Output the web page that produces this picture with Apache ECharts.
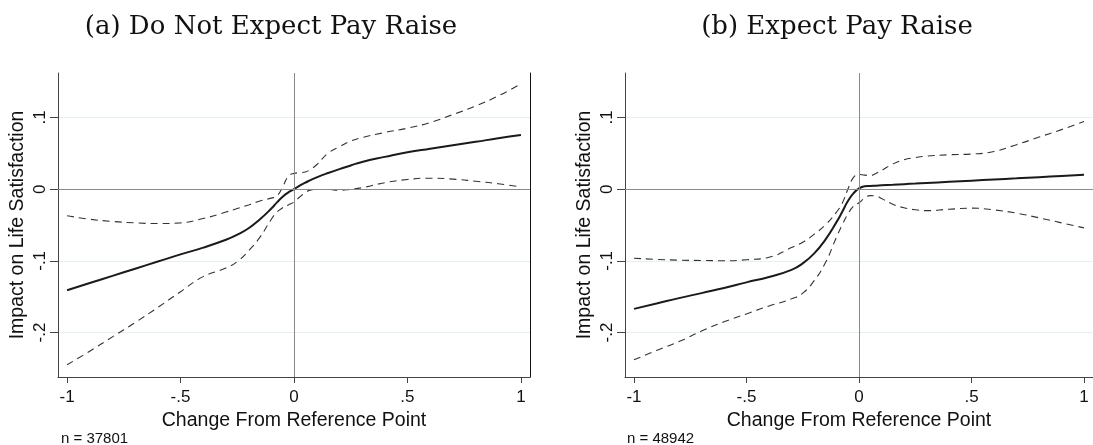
<!DOCTYPE html>
<html>
<head>
<meta charset="utf-8">
<script src="https://cdn.jsdelivr.net/npm/echarts@6/dist/echarts.min.js"></script>
<style>
  html, body { margin: 0; padding: 0; background: #fff; }
  #chart { width: 1093px; height: 445px; }
</style>
</head>
<body>
<div id="chart"></div>
<script>
// Shared grid of reference-point changes
const xs = [-1, -0.9, -0.8, -0.7, -0.6, -0.5, -0.4, -0.3, -0.25, -0.2, -0.15, -0.1, -0.075, -0.05, -0.025,
            0, 0.025, 0.05, 0.075, 0.1, 0.15, 0.2, 0.25, 0.3, 0.4, 0.5, 0.6, 0.7, 0.8, 0.9, 1];

// (a) Do not expect pay raise: estimate and confidence band
const aEstimate = [-0.141, -0.131, -0.121, -0.111, -0.101, -0.091, -0.0815, -0.0705, -0.0635, -0.0545, -0.042, -0.027, -0.0185, -0.0105, -0.0045,
                   0.0, 0.005, 0.009, 0.013, 0.0165, 0.0225, 0.028, 0.033, 0.038, 0.045, 0.0515, 0.0565, 0.0613, 0.066, 0.071, 0.0755];
const aUpper = [-0.037, -0.042, -0.045, -0.047, -0.048, -0.047, -0.041, -0.032, -0.027, -0.022, -0.0165, -0.0125, -0.0095, 0.003, 0.018,
                0.022, 0.023, 0.024, 0.028, 0.034, 0.050, 0.059, 0.067, 0.072, 0.079, 0.085, 0.093, 0.104, 0.116, 0.130, 0.147];
const aLower = [-0.245, -0.226, -0.206, -0.186, -0.165, -0.143, -0.122, -0.110, -0.101, -0.086, -0.067, -0.042, -0.032, -0.026, -0.022,
                -0.018, -0.011, -0.005, -0.001, -0.0005, -0.0005, -0.0014, 0.0, 0.002, 0.009, 0.0135, 0.0153, 0.014, 0.011, 0.0075, 0.003];

// (b) Expect pay raise: estimate and confidence band
const bEstimate = [-0.167, -0.1596, -0.152, -0.145, -0.138, -0.130, -0.1225, -0.1125, -0.1035, -0.090, -0.0707, -0.046, -0.032, -0.017, -0.006,
                   0.001, 0.004, 0.0045, 0.0049, 0.0053, 0.0061, 0.007, 0.0078, 0.0086, 0.0102, 0.0118, 0.0135, 0.0151, 0.0167, 0.0183, 0.020];
const bUpper = [-0.0963, -0.098, -0.099, -0.0995, -0.0998, -0.0985, -0.095, -0.0815, -0.074, -0.063, -0.050, -0.032, -0.020, -0.0005, 0.016,
                0.0205, 0.0195, 0.019, 0.022, 0.026, 0.035, 0.041, 0.044, 0.046, 0.048, 0.049, 0.0526, 0.062, 0.0726, 0.083, 0.0944];
const bLower = [-0.238, -0.225, -0.2125, -0.198, -0.185, -0.174, -0.163, -0.153, -0.145, -0.128, -0.103, -0.067, -0.050, -0.035, -0.024,
                -0.019, -0.0125, -0.009, -0.0095, -0.013, -0.021, -0.026, -0.0288, -0.030, -0.028, -0.0265, -0.029, -0.0335, -0.040, -0.047, -0.054];

// Tick positions and their labels
const xTickValues = [-1, -0.5, 0, 0.5, 1];
const xTickLabels = ['-1', '-.5', '0', '.5', '1'];
const yTickValues = [-0.2, -0.1, 0, 0.1];
const yTickLabels = ['-.2', '-.1', '0', '.1'];

const panelTitles = ['(a) Do Not Expect Pay Raise', '(b) Expect Pay Raise'];
const sampleNotes = ['n = 37801', 'n = 48942'];

const SANS = 'Liberation Sans, Arial, sans-serif';
const SERIF = 'DejaVu Serif, serif';
const AXIS_COLOR = '#444';

function pairs(ys) { return xs.map((x, i) => [x, ys[i]]); }
function labelFor(values, labels) {
  return v => {
    const i = values.findIndex(t => Math.abs(t - v) < 1e-9);
    return i >= 0 ? labels[i] : '';
  };
}

function xAxisFor(g) {
  return {
    gridIndex: g, type: 'value', min: -1.04, max: 1.04,
    name: 'Change From Reference Point', nameLocation: 'middle', nameGap: 27,
    nameTextStyle: { fontFamily: SANS, fontSize: 19.5, color: '#111' },
    axisLine: { show: true, onZero: false, lineStyle: { color: AXIS_COLOR, width: 1 } },
    axisTick: { show: true, length: 6, customValues: xTickValues, lineStyle: { color: AXIS_COLOR } },
    axisLabel: { customValues: xTickValues, formatter: labelFor(xTickValues, xTickLabels),
                 fontFamily: SANS, fontSize: 17, color: '#111', margin: 12 },
    splitLine: { show: false }
  };
}
function yAxisFor(g) {
  return {
    gridIndex: g, type: 'value', min: -0.262, max: 0.162,
    name: 'Impact on Life Satisfaction', nameLocation: 'middle', nameGap: 30,
    nameTextStyle: { fontFamily: SANS, fontSize: 19.5, color: '#111' },
    axisLine: { show: true, onZero: false, lineStyle: { color: AXIS_COLOR, width: 1 } },
    axisTick: { show: true, length: 8, customValues: yTickValues, lineStyle: { color: AXIS_COLOR } },
    axisLabel: { customValues: yTickValues, formatter: labelFor(yTickValues, yTickLabels), rotate: 90,
                 fontFamily: SANS, fontSize: 17, color: '#111', margin: 9 },
    splitLine: { show: true, lineStyle: { color: '#e7eff0', width: 1 } }
  };
}

function bandSeries(g, ys) {
  return { type: 'line', xAxisIndex: g, yAxisIndex: g, data: pairs(ys), smooth: 0.5,
           showSymbol: false, lineStyle: { color: '#333', width: 1.1, type: [7, 5] }, z: 3 };
}
function estimateSeries(g, ys) {
  return { type: 'line', xAxisIndex: g, yAxisIndex: g, data: pairs(ys), smooth: 0.5,
           showSymbol: false, lineStyle: { color: '#1a1a1a', width: 2 }, z: 4 };
}
function zeroLines(g) {
  return { type: 'line', xAxisIndex: g, yAxisIndex: g, data: [], z: 2,
           markLine: { silent: true, symbol: 'none', label: { show: false },
                       lineStyle: { color: '#8a8a8a', width: 1, type: 'solid' },
                       data: [{ xAxis: 0 }, { yAxis: 0 }] } };
}

function textBlock(text, left, top, family, size, align) {
  return { text: text, left: left, top: top, padding: 0,
           textAlign: align, textVerticalAlign: align === 'center' ? 'middle' : 'top',
           textStyle: { fontFamily: family, fontSize: size, fontWeight: 'normal', color: '#111' } };
}

const chart = echarts.init(document.getElementById('chart'), null, { renderer: 'canvas' });
chart.setOption({
  animation: false,
  backgroundColor: '#fff',
  title: [
    textBlock(panelTitles[0], 271, 27, SERIF, 26, 'center'),
    textBlock(panelTitles[1], 837, 27, SERIF, 26, 'center'),
    textBlock(sampleNotes[0], 61, 431, SANS, 15, 'left'),
    textBlock(sampleNotes[1], 627, 431, SANS, 15, 'left')
  ],
  grid: [
    { left: 58, top: 73, width: 472, height: 304 },
    { left: 625, top: 73, width: 472, height: 304 }
  ],
  xAxis: [xAxisFor(0), xAxisFor(1)],
  yAxis: [
    yAxisFor(0), yAxisFor(1),
    // plot-region edge on the right of panel (a)
    { gridIndex: 0, type: 'value', position: 'right', min: -0.262, max: 0.162,
      axisLine: { show: true, onZero: false, lineStyle: { color: '#111', width: 1 } },
      axisTick: { show: false }, axisLabel: { show: false }, splitLine: { show: false } }
  ],
  series: [
    zeroLines(0),
    bandSeries(0, aUpper), bandSeries(0, aLower), estimateSeries(0, aEstimate),
    zeroLines(1),
    bandSeries(1, bUpper), bandSeries(1, bLower), estimateSeries(1, bEstimate)
  ]
});
</script>
</body>
</html>
